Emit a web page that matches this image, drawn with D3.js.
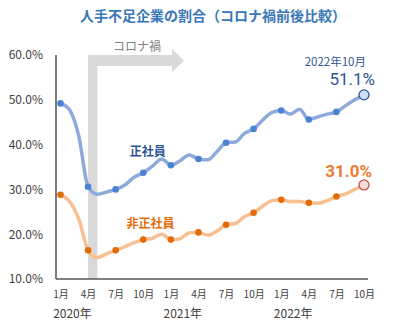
<!DOCTYPE html>
<html>
<head>
<meta charset="utf-8">
<script src="https://cdn.jsdelivr.net/npm/d3@7"></script>
<style>
  body { margin: 0; background: #fff; }
  svg text { font-family: "Noto Sans CJK JP", "Noto Sans", sans-serif; }
</style>
</head>
<body>
<div id="chart"></div>
<script>

// monthly survey, Jan 2020 .. Oct 2022
var months = [
  "2020-01","2020-02","2020-03","2020-04","2020-05","2020-06","2020-07","2020-08","2020-09","2020-10","2020-11","2020-12",
  "2021-01","2021-02","2021-03","2021-04","2021-05","2021-06","2021-07","2021-08","2021-09","2021-10","2021-11","2021-12",
  "2022-01","2022-02","2022-03","2022-04","2022-05","2022-06","2022-07","2022-08","2022-09","2022-10"
];

var seishain = [
  49.2, 47.7, 41.8, 30.6, 28.9, 29.4, 30.0, 31.0, 32.7, 33.7, 35.2, 36.8,
  35.4, 36.4, 37.7, 36.8, 36.6, 38.4, 40.4, 40.6, 42.5, 43.5, 45.5, 47.2,
  47.6, 46.8, 47.9, 45.6, 46.2, 46.8, 47.3, 48.7, 50.0, 51.1
];

var hiseishain = [
  28.8, 27.3, 23.3, 16.4, 14.8, 15.6, 16.4, 17.2, 18.1, 18.8, 19.1, 20.0,
  18.8, 19.0, 20.3, 20.4, 19.8, 20.7, 22.1, 22.4, 23.9, 24.8, 26.3, 27.5,
  27.7, 27.3, 27.3, 27.0, 26.9, 27.5, 28.4, 29.0, 30.0, 31.0
];

var monthTicks = ["1月","4月","7月","10月","1月","4月","7月","10月","1月","4月","7月","10月"];
var years = ["2020年","2021年","2022年"];
var yTicks = [10, 20, 30, 40, 50, 60];

var width = 393, height = 326;

var svg = d3.select("#chart").append("svg")
  .attr("width", width)
  .attr("height", height);

var x = d3.scaleLinear().domain([0, months.length - 1]).range([60.5, 364]);
var y = d3.scaleLinear().domain([10, 60]).range([279, 55]);

// title
svg.append("text")
  .attr("x", 213).attr("y", 21)
  .attr("text-anchor", "middle")
  .style("font-size", "14px").style("font-weight", "bold")
  .style("fill", "#3a78b8")
  .text("人手不足企業の割合（コロナ禍前後比較）");

// corona period: band from Apr 2020 with arrow pointing right
var bandL = x(3), bandR = x(4), bandTop = y(60), bandBottom = y(10);
svg.append("path")
  .attr("d", "M" + bandL + "," + bandBottom + " L" + bandL + "," + bandTop +
    " L172," + bandTop + " L172," + (bandTop - 6) + " L184," + (bandTop + 5.5) +
    " L172," + (bandTop + 17) + " L172," + (bandTop + 11) +
    " L" + bandR + "," + (bandTop + 11) + " L" + bandR + "," + bandBottom + " Z")
  .style("fill", "#d9d9d9");

svg.append("text")
  .attr("x", 137).attr("y", 51)
  .attr("text-anchor", "middle")
  .style("font-size", "12px")
  .style("fill", "#7f7f7f")
  .text("コロナ禍");

// y axis labels
var yAxis = d3.axisLeft(y)
  .tickValues(yTicks)
  .tickSize(0)
  .tickPadding(0)
  .tickFormat(function(d) { return d.toFixed(1) + "%"; });

var gy = svg.append("g")
  .attr("transform", "translate(43,0)")
  .call(yAxis);
gy.select(".domain").remove();
gy.selectAll("text")
  .style("font-size", "12px")
  .style("fill", "#404040")
  .style("font-family", "'Noto Sans CJK JP', sans-serif");

// x axis labels
var xAxis = d3.axisBottom(x)
  .tickValues(d3.range(0, months.length, 3))
  .tickSize(0)
  .tickPadding(0)
  .tickFormat(function(d, i) { return monthTicks[i]; });

var gx = svg.append("g")
  .attr("transform", "translate(0,291)")
  .call(xAxis);
gx.select(".domain").remove();
gx.selectAll("text")
  .style("font-size", "10px")
  .style("fill", "#404040")
  .style("font-family", "'Noto Sans CJK JP', sans-serif");

svg.selectAll(".year")
  .data(years)
  .enter().append("text")
  .attr("class", "year")
  .attr("x", function(d, i) { return x(i * 12 + 1.3); })
  .attr("y", 318)
  .attr("text-anchor", "middle")
  .style("font-size", "12px")
  .style("fill", "#404040")
  .text(function(d) { return d; });

// axis lines
svg.append("line")
  .attr("x1", 56).attr("x2", 56)
  .attr("y1", y(60)).attr("y2", y(10))
  .style("stroke", "#7f7f7f").style("stroke-width", 2);

svg.append("line")
  .attr("x1", 56).attr("x2", 368)
  .attr("y1", y(10)).attr("y2", y(10))
  .style("stroke", "#595959").style("stroke-width", 1.5);

var line = d3.line()
  .x(function(d, i) { return x(i); })
  .y(function(d) { return y(d); })
  .curve(d3.curveMonotoneX);

var series = [
  { name: "正社員", values: seishain, lineColor: "#8eaadb", dot: "#4a82d4",
    endFill: "#cfe2f3", endStroke: "#2f5597" },
  { name: "非正社員", values: hiseishain, lineColor: "#f8bf91", dot: "#e36c09",
    endFill: "#f6dada", endStroke: "#c0504d" }
];

series.forEach(function(s) {
  svg.append("path")
    .datum(s.values)
    .attr("d", line)
    .style("fill", "none")
    .style("stroke", s.lineColor)
    .style("stroke-width", 3.5)
    .style("stroke-linejoin", "round");

  var last = s.values.length - 1;
  svg.selectAll(null)
    .data(s.values.map(function(v, i) { return { i: i, v: v }; })
      .filter(function(d) { return d.i % 3 == 0 && d.i != last; }))
    .enter().append("circle")
    .attr("cx", function(d) { return x(d.i); })
    .attr("cy", function(d) { return y(d.v); })
    .attr("r", 3.3)
    .style("fill", s.dot);

  svg.append("circle")
    .attr("cx", x(last))
    .attr("cy", y(s.values[last]))
    .attr("r", 5)
    .style("fill", s.endFill)
    .style("stroke", s.endStroke)
    .style("stroke-width", 1.3);
});

// series labels
svg.append("text")
  .attr("x", x(9.5)).attr("y", y(38.5) + 4.5)
  .attr("text-anchor", "middle")
  .style("font-size", "12px").style("font-weight", "bold")
  .style("fill", "#2f5597")
  .text("正社員");

svg.append("text")
  .attr("x", x(9.8)).attr("y", y(22.5) + 4.5)
  .attr("text-anchor", "middle")
  .style("font-size", "12px").style("font-weight", "bold")
  .style("fill", "#e36c09")
  .text("非正社員");

// latest values
var lastIdx = months.length - 1;
svg.append("text")
  .attr("x", x(lastIdx) + 2).attr("y", 65.5)
  .attr("text-anchor", "end")
  .style("font-size", "11.5px")
  .style("fill", "#2f5597")
  .text("2022年10月");

svg.append("text")
  .attr("x", 375).attr("y", 85)
  .attr("text-anchor", "end")
  .style("font-size", "17px")
  .style("font-family", "Roboto, sans-serif")
  .style("fill", "#2f5597")
  .text(seishain[lastIdx].toFixed(1) + "%");

svg.append("text")
  .attr("x", 372).attr("y", 176.5)
  .attr("text-anchor", "end")
  .style("font-size", "17px").style("font-weight", "bold")
  .style("font-family", "Roboto, sans-serif")
  .style("fill", "#ed7d31")
  .text(hiseishain[lastIdx].toFixed(1) + "%");

</script>
</body>
</html>
